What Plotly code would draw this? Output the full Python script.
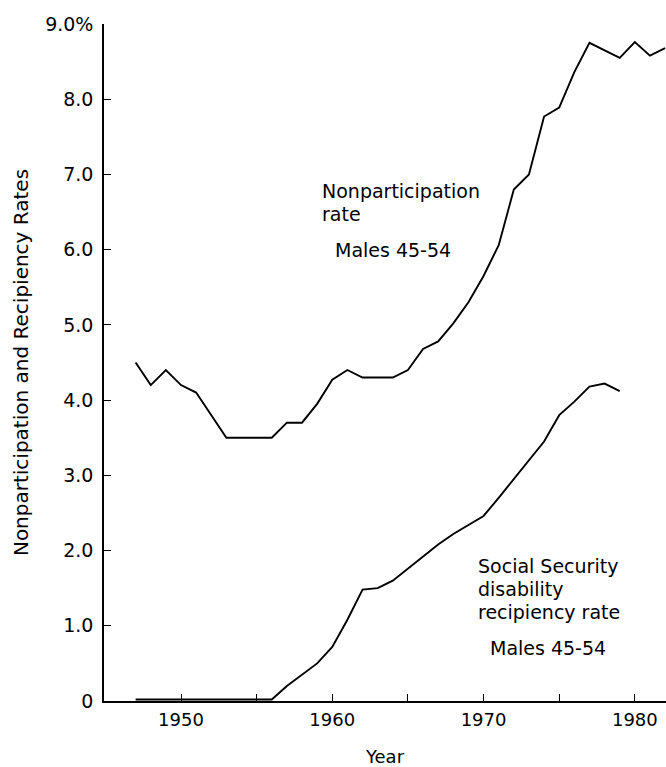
import plotly.graph_objects as go

years_np = list(range(1947, 1983))
nonparticipation = [4.5, 4.2, 4.4, 4.2, 4.1, 3.8, 3.5, 3.5, 3.5, 3.5,
                    3.7, 3.7, 3.95, 4.27, 4.4, 4.3, 4.3, 4.3, 4.4, 4.68,
                    4.78, 5.02, 5.3, 5.65, 6.06, 6.8, 7.0, 7.77, 7.89, 8.36,
                    8.75, 8.65, 8.55, 8.76, 8.58, 8.68]

years_ss = list(range(1947, 1980))
ss_disability = [0.02, 0.02, 0.02, 0.02, 0.02, 0.02, 0.02, 0.02, 0.02, 0.02,
                 0.2, 0.35, 0.5, 0.72, 1.08, 1.48, 1.5, 1.6, 1.76, 1.92,
                 2.08, 2.22, 2.34, 2.46, 2.7, 2.95, 3.2, 3.45, 3.8, 3.98,
                 4.18, 4.22, 4.12]

x_tickvals = [1950, 1955, 1960, 1965, 1970, 1975, 1980]
x_ticktext = ["1950", "", "1960", "", "1970", "", "1980"]
y_tickvals = [0, 1, 2, 3, 4, 5, 6, 7, 8, 9]
y_ticktext = ["0", "1.0", "2.0", "3.0", "4.0", "5.0", "6.0", "7.0", "8.0", "9.0%"]

FONT = "DejaVu Sans"
W, H = 666, 767
L, R, T, B = 104, 0, 24, 66

fig = go.Figure()
fig.add_trace(go.Scatter(x=years_np, y=nonparticipation, mode="lines",
                         line=dict(color="black", width=1.9), showlegend=False))
fig.add_trace(go.Scatter(x=years_ss, y=ss_disability, mode="lines",
                         line=dict(color="black", width=1.9), showlegend=False))

def px(xp):
    return (xp - L) / (W - L - R)

def py(yp):
    return (H - B - yp) / (H - T - B)

labels = [
    ("Nonparticipation", 320, 191),
    ("rate", 320, 214),
    ("Males 45-54", 333, 250),
    ("Social Security", 476, 566),
    ("disability", 476, 589),
    ("recipiency rate", 476, 612),
    ("Males 45-54", 488, 648),
]
for txt, xp, yp in labels:
    fig.add_annotation(text=txt, x=px(xp), y=py(yp), xref="paper", yref="paper",
                       xanchor="left", yanchor="middle", showarrow=False,
                       font=dict(family=FONT, size=19, color="black"))

fig.update_layout(
    width=W, height=H,
    margin=dict(l=L, r=R, t=T, b=B),
    plot_bgcolor="white", paper_bgcolor="white",
    font=dict(family=FONT, size=18, color="black"),
    xaxis=dict(range=[1944.91, 1982.06], tickvals=x_tickvals, ticktext=x_ticktext,
               ticks="inside", ticklen=7, tickwidth=1.2, tickcolor="black",
               showline=True, linecolor="black", linewidth=1.5,
               showgrid=False, zeroline=False, ticklabelstandoff=2,
               tickfont=dict(size=18),
               title=dict(text="Year", standoff=21, font=dict(size=18))),
    yaxis=dict(range=[0, 9], tickvals=y_tickvals, ticktext=y_ticktext,
               ticks="inside", ticklen=7, tickwidth=1.2, tickcolor="black",
               showline=True, linecolor="black", linewidth=1.5,
               showgrid=False, zeroline=False, ticklabelstandoff=5,
               tickfont=dict(size=19),
               title=dict(text="Nonparticipation and Recipiency Rates", standoff=11,
                          font=dict(size=20))),
)

fig.write_html("out.html", config={"displayModeBar": False},
               post_script="document.body.style.margin='0px';")
